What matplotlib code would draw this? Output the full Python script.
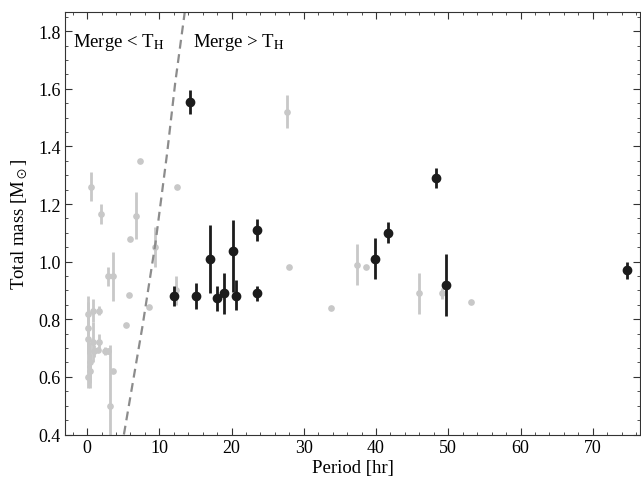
import matplotlib
matplotlib.use("Agg")
import matplotlib.pyplot as plt
from matplotlib.ticker import MultipleLocator, FormatStrFormatter

# Systèmes qui fusionnent après T_H (points noirs)
periodes_noir = [14.3, 12.06, 15.05, 17.08, 18.05, 18.92, 20.17, 20.58, 23.49, 23.49,
                 39.86, 41.66, 48.24, 49.68, 74.76]
masses_noir = [1.555, 0.881, 0.881, 1.009, 0.873, 0.891, 1.037, 0.882, 1.111, 0.891,
               1.010, 1.101, 1.290, 0.918, 0.970]
err_bas_noir = [0.044, 0.034, 0.045, 0.119, 0.044, 0.073, 0.141, 0.049, 0.040, 0.028,
                0.071, 0.036, 0.036, 0.107, 0.030]
err_haut_noir = [0.042, 0.035, 0.045, 0.119, 0.044, 0.068, 0.109, 0.055, 0.037, 0.025,
                 0.071, 0.036, 0.036, 0.109, 0.030]

# Autres systèmes avec barres d'erreur (points gris)
periodes_gris = [0.48, 1.96, 6.71, 9.43, 2.88, 3.53, 12.3, 27.7, 37.4, 45.9, 49.2, 3.2,
                 1.69, 1.59, 2.46, 2.93,
                 0.07, 0.76, 0.16, 0.07, 0.76, 1.0, 0.39, 0.44, 0.2]
masses_gris = [1.26, 1.165, 1.16, 1.05, 0.95, 0.95, 0.90, 1.52, 0.99, 0.89, 0.89, 0.50,
               0.83, 0.72, 0.69, 0.69,
               0.82, 0.83, 0.77, 0.73, 0.72, 0.69, 0.65, 0.62, 0.60]
err_gris = [0.05, 0.034, 0.083, 0.07, 0.033, 0.085, 0.05, 0.057, 0.07, 0.07, 0.02, 0.21,
            0.015, 0.03, 0.015, 0.01,
            0.06, 0.04, 0.09, 0.10, 0.07, 0.02, 0.07, 0.06, 0.04]

# Points gris sans barre d'erreur
periodes_gris_seul = [7.26, 12.47, 5.92, 5.74, 8.6, 5.33, 3.53, 1.45, 27.9, 33.8, 38.6, 53.1]
masses_gris_seul = [1.35, 1.26, 1.08, 0.883, 0.842, 0.78, 0.62, 0.693, 0.98, 0.84, 0.98, 0.86]

# Limite de fusion en un temps de Hubble
limite_periode = [5.1, 7.7, 9.5, 11.1, 12.2, 13.6]
limite_masse = [0.40, 0.78, 1.07, 1.38, 1.62, 1.88]

plt.rcParams['font.family'] = ['Liberation Serif', 'DejaVu Serif']
plt.rcParams['mathtext.fontset'] = 'stix'
plt.rcParams['font.size'] = 13

fig = plt.figure(figsize=(6.41, 4.85), dpi=100)
ax = fig.add_axes([0.102, 0.102, 0.896, 0.871])

gris = '#c8c8c8'
noir = '#1c1c1c'

ax.errorbar(periodes_gris, masses_gris, yerr=err_gris, fmt='o', color=gris,
            ms=3.8, elinewidth=2, capsize=0, zorder=1)
ax.plot(periodes_gris_seul, masses_gris_seul, 'o', color=gris, ms=3.8, zorder=1)

ax.plot(limite_periode, limite_masse, '--', color='#8c8c8c', lw=1.6,
        dashes=(4, 2.5), zorder=2)

ax.errorbar(periodes_noir, masses_noir, yerr=[err_bas_noir, err_haut_noir], fmt='o',
            color=noir, ms=6, elinewidth=2, capsize=0, zorder=3)

ax.text(-1.9, 1.765, r'Merge < T$_\mathrm{H}$', va='center', ha='left', fontsize=13.5)
ax.text(14.7, 1.765, r'Merge > T$_\mathrm{H}$', va='center', ha='left', fontsize=13.5)

# Configuration des axes
ax.set_xlim(-3, 76.5)
ax.set_ylim(0.4, 1.866)
ax.xaxis.set_major_locator(MultipleLocator(10))
ax.xaxis.set_minor_locator(MultipleLocator(2))
ax.yaxis.set_major_locator(MultipleLocator(0.2))
ax.yaxis.set_minor_locator(MultipleLocator(0.05))
ax.yaxis.set_major_formatter(FormatStrFormatter('%.1f'))
ax.tick_params(which='both', direction='in', top=True, right=True, color='#333333')
ax.tick_params(which='major', length=5, labelsize=13)
ax.tick_params(which='minor', length=2.5)
for s in ax.spines.values():
    s.set_color('#333333')

ax.set_xlabel('Period [hr]', fontsize=13.5, labelpad=2)
ax.set_ylabel(r'Total mass [M$_\odot$]', fontsize=13.5, labelpad=6)

fig.savefig('out.png', dpi=100)
